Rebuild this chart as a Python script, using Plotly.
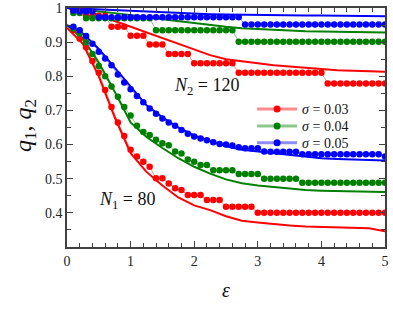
import numpy as np
import plotly.graph_objects as go

# ---------------- data ----------------
eps_pts = [round(0.1 * i, 1) for i in range(1, 51)]          # marker abscissae 0.1 .. 5.0
eps_line = [0.0, 0.25, 0.5, 0.75, 1.0, 1.25, 1.5, 1.75, 2.0, 2.25, 2.5,
            2.75, 3.0, 3.25, 3.5, 3.75, 4.0, 4.25, 4.5, 4.75, 5.0]

# N2 = 120 (upper group) markers
n2_s03_pts = [0.99, 0.99, 0.977, 0.977, 0.977, 0.977, 0.945, 0.945, 0.945, 0.919,
              0.919, 0.919, 0.893, 0.893, 0.893, 0.865, 0.865, 0.865, 0.865, 0.838,
              0.838, 0.838, 0.838, 0.838, 0.838, 0.838, 0.81, 0.81, 0.81, 0.81,
              0.81, 0.81, 0.81, 0.81, 0.81, 0.81, 0.81, 0.81, 0.81, 0.81,
              0.779, 0.779, 0.779, 0.779, 0.779, 0.779, 0.779, 0.779, 0.779, 0.779]
n2_s04_pts = [0.985, 0.985, 0.97, 0.97, 0.97, 0.97, 0.97, 0.97, 0.97, 0.97,
              0.97, 0.97, 0.97, 0.935, 0.935, 0.935, 0.935, 0.935, 0.935, 0.935,
              0.935, 0.935, 0.935, 0.935, 0.935, 0.935, 0.901, 0.901, 0.901, 0.901,
              0.901, 0.901, 0.901, 0.901, 0.901, 0.901, 0.901, 0.901, 0.901, 0.901,
              0.901, 0.901, 0.901, 0.901, 0.901, 0.901, 0.901, 0.901, 0.901, 0.901]
n2_s05_pts = [0.993, 0.99, 0.99, 0.99, 0.973, 0.973, 0.973, 0.973, 0.973, 0.973,
              0.973, 0.973, 0.973, 0.973, 0.973, 0.973, 0.973, 0.973, 0.973, 0.973,
              0.973, 0.973, 0.973, 0.973, 0.973, 0.973, 0.973, 0.952, 0.952, 0.952,
              0.952, 0.952, 0.952, 0.952, 0.952, 0.952, 0.952, 0.952, 0.952, 0.952,
              0.952, 0.952, 0.952, 0.952, 0.952, 0.952, 0.952, 0.952, 0.952, 0.952]
# N2 = 120 solid curves
n2_s03_line = [1.0, 0.99, 0.98, 0.962, 0.945, 0.93, 0.912, 0.896, 0.877, 0.862, 0.85,
               0.843, 0.838, 0.832, 0.828, 0.824, 0.821, 0.818, 0.816, 0.814, 0.813]
n2_s04_line = [1.0, 0.996, 0.99, 0.985, 0.98, 0.974, 0.967, 0.961, 0.955, 0.95, 0.945,
               0.941, 0.938, 0.936, 0.934, 0.932, 0.931, 0.93, 0.929, 0.928, 0.928]
n2_s05_line = [1.0, 0.998, 0.996, 0.993, 0.99, 0.988, 0.987, 0.985, 0.984, 0.982, 0.981,
               0.98, 0.98, 0.979, 0.979, 0.978, 0.978, 0.977, 0.977, 0.976, 0.976]

# N1 = 80 (lower group) markers
n1_s03_pts = [0.935, 0.91, 0.885, 0.845, 0.81, 0.76, 0.71, 0.665, 0.625, 0.585,
              0.565, 0.55, 0.535, 0.501, 0.501, 0.486, 0.472, 0.467, 0.452, 0.452,
              0.452, 0.438, 0.438, 0.438, 0.418, 0.418, 0.418, 0.418, 0.418, 0.40,
              0.40, 0.40, 0.40, 0.40, 0.40, 0.40, 0.40, 0.40, 0.40, 0.40,
              0.40, 0.40, 0.40, 0.40, 0.40, 0.40, 0.40, 0.40, 0.40, 0.40]
n1_s04_pts = [0.94, 0.925, 0.90, 0.865, 0.83, 0.80, 0.77, 0.74, 0.71, 0.685,
              0.655, 0.637, 0.628, 0.614, 0.604, 0.598, 0.58, 0.574, 0.556, 0.55,
              0.54, 0.54, 0.525, 0.525, 0.525, 0.525, 0.514, 0.514, 0.514, 0.514,
              0.50, 0.50, 0.50, 0.50, 0.50, 0.50, 0.488, 0.488, 0.488, 0.488,
              0.488, 0.488, 0.488, 0.488, 0.488, 0.488, 0.488, 0.488, 0.488, 0.488]
n1_s05_pts = [0.945, 0.935, 0.918, 0.895, 0.872, 0.852, 0.832, 0.805, 0.782, 0.762,
              0.742, 0.724, 0.706, 0.69, 0.676, 0.665, 0.655, 0.643, 0.632, 0.624,
              0.618, 0.613, 0.607, 0.602, 0.60, 0.597, 0.592, 0.589, 0.589, 0.589,
              0.58, 0.579, 0.579, 0.579, 0.579, 0.579, 0.572, 0.572, 0.572, 0.572,
              0.572, 0.572, 0.572, 0.572, 0.572, 0.572, 0.572, 0.572, 0.572, 0.565]
# N1 = 80 solid curves
n1_s03_line = [0.942, 0.895, 0.80, 0.68, 0.575, 0.52, 0.48, 0.445, 0.422, 0.408, 0.39,
               0.377, 0.372, 0.367, 0.363, 0.36, 0.359, 0.358, 0.357, 0.355, 0.346]
n1_s04_line = [0.95, 0.91, 0.84, 0.755, 0.665, 0.622, 0.59, 0.56, 0.535, 0.515, 0.498,
               0.487, 0.48, 0.475, 0.47, 0.467, 0.465, 0.464, 0.463, 0.462, 0.461]
n1_s05_line = [0.95, 0.925, 0.88, 0.825, 0.77, 0.715, 0.68, 0.65, 0.627, 0.61, 0.595,
               0.585, 0.58, 0.574, 0.568, 0.563, 0.56, 0.558, 0.557, 0.556, 0.553]

sigma_labels = ["0.03", "0.04", "0.05"]
y_tick_vals = [0.4, 0.5, 0.6, 0.7, 0.8, 0.9, 1.0]
y_tick_text = ["0.4", "0.5", "0.6", "0.7", "0.8", "0.9", "1"]
x_tick_vals = [0, 1, 2, 3, 4, 5]

# ---------------- styles ----------------
colors = ["#FF0000", "#008000", "#0000FF"]
faint = ["rgba(255,0,0,0.45)", "rgba(0,128,0,0.45)", "rgba(0,0,255,0.45)"]
SERIF = "Liberation Serif"

fig = go.Figure()

pts_sets = [[n1_s03_pts, n1_s04_pts, n1_s05_pts], [n2_s03_pts, n2_s04_pts, n2_s05_pts]]
line_sets = [[n1_s03_line, n1_s04_line, n1_s05_line], [n2_s03_line, n2_s04_line, n2_s05_line]]

for grp in range(2):
    for k in range(3):
        fig.add_trace(go.Scatter(
            x=eps_line, y=line_sets[grp][k], mode="lines",
            line=dict(color=colors[k], width=2), showlegend=False, hoverinfo="skip"))
for grp in range(2):
    for k in range(3):
        fig.add_trace(go.Scatter(
            x=eps_pts, y=pts_sets[grp][k], mode="lines+markers",
            line=dict(color=faint[k], width=1),
            marker=dict(color=colors[k], size=6.5),
            showlegend=False, hoverinfo="skip"))

# legend entries, one small legend per row so the row spacing can follow the reference
legend_names = ["legend", "legend2", "legend3"]
for k in range(3):
    fig.add_trace(go.Scatter(
        x=[None], y=[None], mode="lines+markers",
        line=dict(color=faint[k], width=3),
        marker=dict(color=colors[k], size=7),
        name="<i>σ</i> = " + sigma_labels[k], legend=legend_names[k]))

axis_common = dict(
    showline=True, linecolor="#404040", linewidth=1.5, mirror="ticks",
    ticks="inside", ticklen=6, tickwidth=1.2, tickcolor="#404040",
    showgrid=False, zeroline=False, automargin=False,
    tickfont=dict(family=SERIF, size=14, color="#222"),
)

fig.update_xaxes(range=[0, 5], tickvals=x_tick_vals,
                 minor=dict(dtick=0.2, ticks="inside", ticklen=4, tickcolor="#404040", tickwidth=1),
                 **axis_common)
fig.update_yaxes(range=[0.3, 1.0], tickvals=y_tick_vals, ticktext=y_tick_text,
                 minor=dict(dtick=0.05, ticks="inside", ticklen=4, tickcolor="#404040", tickwidth=1),
                 **axis_common)

legend_style = dict(x=0.582, xanchor="left", yanchor="top", bgcolor="rgba(0,0,0,0)",
                    font=dict(family=SERIF, size=14, color="#111"), itemwidth=40)

fig.update_layout(
    width=393, height=314,
    margin=dict(l=67, r=8, t=8, b=67),
    paper_bgcolor="white", plot_bgcolor="white",
    font=dict(family=SERIF, color="#111"),
    legend=dict(y=0.643, **legend_style),
    legend2=dict(y=0.572, **legend_style),
    legend3=dict(y=0.501, **legend_style),
    annotations=[
        dict(text="<i>N</i><sub>2</sub> = 120", xref="paper", yref="paper",
             x=(172 - 67) / 318, y=1 - (86 - 8) / 239, xanchor="left", yanchor="middle",
             showarrow=False, font=dict(family=SERIF, size=18, color="#111")),
        dict(text="<i>N</i><sub>1</sub> = 80", xref="paper", yref="paper",
             x=(97 - 67) / 318, y=1 - (200 - 8) / 239, xanchor="left", yanchor="middle",
             showarrow=False, font=dict(family=SERIF, size=18, color="#111")),
        dict(text="<i>q</i><sub>1</sub>, <i>q</i><sub>2</sub>", xref="paper", yref="paper",
             x=(25 - 67) / 318, y=1 - (126 - 8) / 239, xanchor="center", yanchor="middle",
             textangle=-90, showarrow=False, font=dict(family=SERIF, size=24, color="#111")),
        dict(text="<i>ε</i>", xref="paper", yref="paper",
             x=(226 - 67) / 318, y=1 - (290 - 8) / 239, xanchor="center", yanchor="middle",
             showarrow=False, font=dict(family=SERIF, size=20, color="#111")),
    ],
)

fig.write_html("out.html", config={"displayModeBar": False},
               post_script="document.body.style.margin='0';document.body.style.overflow='hidden';")
